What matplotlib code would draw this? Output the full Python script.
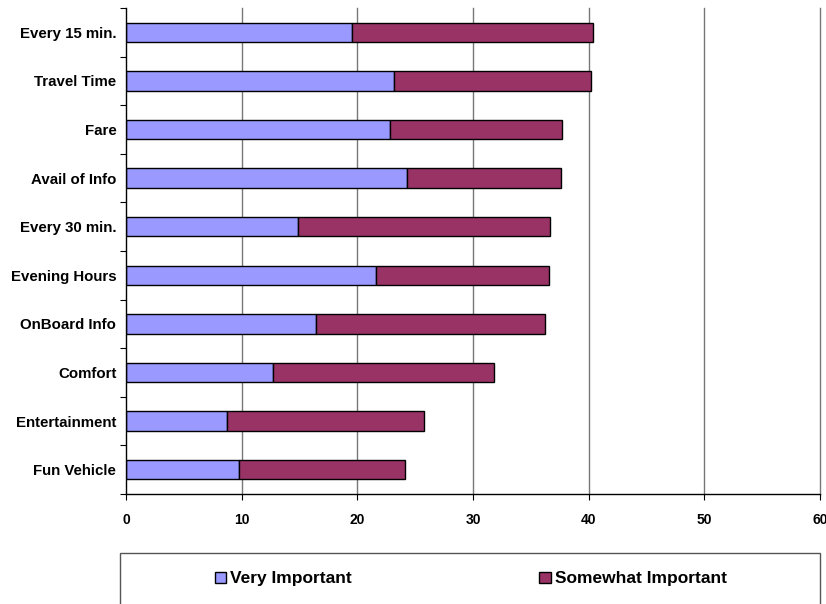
import matplotlib.pyplot as plt
from matplotlib.patches import Rectangle
import numpy as np

plt.rcParams['font.family'] = ['Liberation Sans', 'DejaVu Sans']
plt.rcParams['font.weight'] = 'bold'

categories = ["Every 15 min.", "Travel Time", "Fare", "Avail of Info", "Every 30 min.",
              "Evening Hours", "OnBoard Info", "Comfort", "Entertainment", "Fun Vehicle"]
very_important = [19.5, 23.2, 22.8, 24.3, 14.9, 21.6, 16.4, 12.7, 8.7, 9.8]
totals = [40.4, 40.2, 37.7, 37.6, 36.7, 36.6, 36.2, 31.8, 25.8, 24.1]
somewhat_important = [t - v for t, v in zip(totals, very_important)]
series_labels = ["Very Important", "Somewhat Important"]
colors = ["#9999FF", "#993366"]


def generate_plot(fpath):
    fig = plt.figure(figsize=(8.26, 6.04), dpi=100)
    ax = fig.add_axes([126 / 826, 1 - 494 / 604, 694 / 826, 486 / 604])

    n = len(categories)
    y = np.arange(n)[::-1]

    # vertical gridlines behind the bars
    for gx in range(10, 70, 10):
        ax.axvline(gx, color="#777777", linewidth=1, zorder=0, clip_on=False)

    ax.barh(y, very_important, height=0.4, color=colors[0], edgecolor="black",
            linewidth=1, label=series_labels[0], zorder=2)
    ax.barh(y, somewhat_important, left=very_important, height=0.4, color=colors[1],
            edgecolor="black", linewidth=1, label=series_labels[1], zorder=2)

    ax.set_xlim(0, 60)
    ax.set_ylim(-0.5, n - 0.5)
    ax.set_xticks(np.arange(0, 61, 10))
    ax.tick_params(axis="x", length=4, pad=10, labelsize=10)

    # category labels at centres, tick marks at the boundaries
    ax.set_yticks(np.arange(-0.5, n, 1.0))
    ax.set_yticklabels([])
    ax.tick_params(axis="y", length=4)
    ax.set_yticks(y, labels=categories, minor=True)
    ax.tick_params(axis="y", which="minor", length=0, pad=7, labelsize=10.8)

    for s in ["top", "right"]:
        ax.spines[s].set_visible(False)
    ax.spines["left"].set_linewidth(1)
    ax.spines["bottom"].set_linewidth(1)

    # legend box
    fig.patches.append(Rectangle((120 / 826, -0.05), 700 / 826, 0.05 + (604 - 553) / 604,
                                 transform=fig.transFigure, fill=False,
                                 edgecolor="#555555", linewidth=1))
    fig.legend(loc="center", bbox_to_anchor=(0.570, 1 - 579 / 604), ncol=2, frameon=False,
               fontsize=12.5, handlelength=0.65, handleheight=0.65, handletextpad=0.25,
               columnspacing=10.8)

    plt.savefig(fpath, format='png', dpi=100)


if __name__ == '__main__':
    generate_plot('out.png')
